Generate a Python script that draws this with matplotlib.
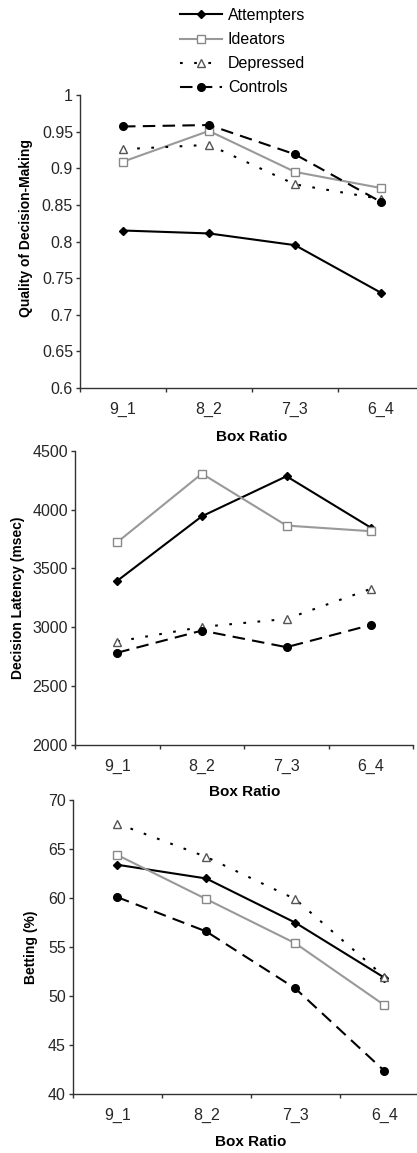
import numpy as np
import matplotlib
matplotlib.use("Agg")
import matplotlib.pyplot as plt

plt.rcParams['font.family'] = ['Liberation Sans', 'DejaVu Sans']

# data
ratios = ['9_1', '8_2', '7_3', '6_4']
groups = ['Attempters', 'Ideators', 'Depressed', 'Controls']

quality_attempters = [0.815, 0.811, 0.795, 0.730]
quality_ideators = [0.909, 0.951, 0.895, 0.873]
quality_depressed = [0.926, 0.932, 0.878, 0.858]
quality_controls = [0.957, 0.959, 0.919, 0.854]

latency_attempters = [3395, 3943, 4283, 3845]
latency_ideators = [3723, 4305, 3864, 3816]
latency_depressed = [2879, 3003, 3071, 3327]
latency_controls = [2784, 2972, 2831, 3020]

betting_attempters = [63.4, 62.0, 57.5, 51.9]
betting_ideators = [64.4, 59.9, 55.4, 49.1]
betting_depressed = [67.6, 64.2, 59.9, 52.0]
betting_controls = [60.1, 56.6, 50.8, 42.4]

panels = [
    ([quality_attempters, quality_ideators, quality_depressed, quality_controls],
     'Quality of Decision-Making', (0.6, 1.0), np.arange(0.6, 1.001, 0.05), '{:g}'),
    ([latency_attempters, latency_ideators, latency_depressed, latency_controls],
     'Decision Latency (msec)', (2000, 4500), np.arange(2000, 4501, 500), '{:.0f}'),
    ([betting_attempters, betting_ideators, betting_depressed, betting_controls],
     'Betting (%)', (40, 70), np.arange(40, 71, 5), '{:.0f}'),
]

styles = [
    dict(color='black', ls='-', marker='D', ms=4.5, mfc='black', mec='black'),
    dict(color='#999999', ls='-', marker='s', ms=6, mfc='white', mec='#888888'),
    dict(color='black', ls=(0, (1.3, 5.5)), marker='^', ms=6, mfc='white', mec='#555555'),
    dict(color='black', ls=(0, (6, 3.5)), marker='o', ms=5.5, mfc='black', mec='black'),
]

W, H = 417, 1153
# axes boxes in pixels: left, right, top, bottom
boxes = [(80, 424, 95, 388), (75, 413.4, 450.7, 745), (72.7, 428.7, 800, 1094.3)]
ylab_pos = [(33, 228), (25, 597.5), (38, 947)]
xlab_top = [430, 785, 1135]

fig = plt.figure(figsize=(W / 100, H / 100), dpi=100)
x = np.arange(len(ratios))
axes = []
for (series, ylab, ylim, yticks, fmt), (l, r, t, b), (lx, ly), xt in zip(panels, boxes, ylab_pos, xlab_top):
    ax = fig.add_axes([l / W, 1 - b / H, (r - l) / W, (b - t) / H])
    for name, vals, st in zip(groups, series, styles):
        ax.plot(x, vals, lw=1.5, label=name, clip_on=False, **st)
    ax.set_xlim(-0.5, len(ratios) - 0.5)
    ax.set_ylim(*ylim)
    ax.set_yticks(yticks)
    ax.set_yticklabels([fmt.format(v) for v in yticks])
    ax.set_xticks(np.arange(-0.5, len(ratios)), labels=[])
    ax.set_xticks(x, labels=ratios, minor=True)
    ax.tick_params(axis='x', which='major', direction='out', length=3, width=1, color='#333333')
    ax.tick_params(axis='x', which='minor', length=0, pad=10, labelsize=11.5, labelcolor='#262626')
    ax.tick_params(axis='y', direction='out', length=3, width=1, color='#333333',
                   labelsize=11.5, labelcolor='#262626', pad=2)
    for s in ['top', 'right']:
        ax.spines[s].set_visible(False)
    for s in ['left', 'bottom']:
        ax.spines[s].set_linewidth(1)
        ax.spines[s].set_color('#333333')
    ax.set_ylabel(ylab, fontsize=10, fontweight='bold')
    ax.yaxis.set_label_coords((lx - l) / (r - l), (b - ly) / (b - t))
    ax.set_xlabel('Box Ratio', fontsize=11, fontweight='bold', va='top')
    ax.xaxis.set_label_coords(((l + r) / 2 - l) / (r - l), (b - xt) / (b - t))
    axes.append(ax)

handles, labels = axes[0].get_legend_handles_labels()
fig.legend(handles, labels, loc='upper left', bbox_to_anchor=(180 / W, 1 - 8 / H),
           frameon=False, fontsize=11.5, handlelength=2.6, handletextpad=0.4,
           labelspacing=0.57, borderpad=0, borderaxespad=0)

fig.savefig('out.png', dpi=100)
